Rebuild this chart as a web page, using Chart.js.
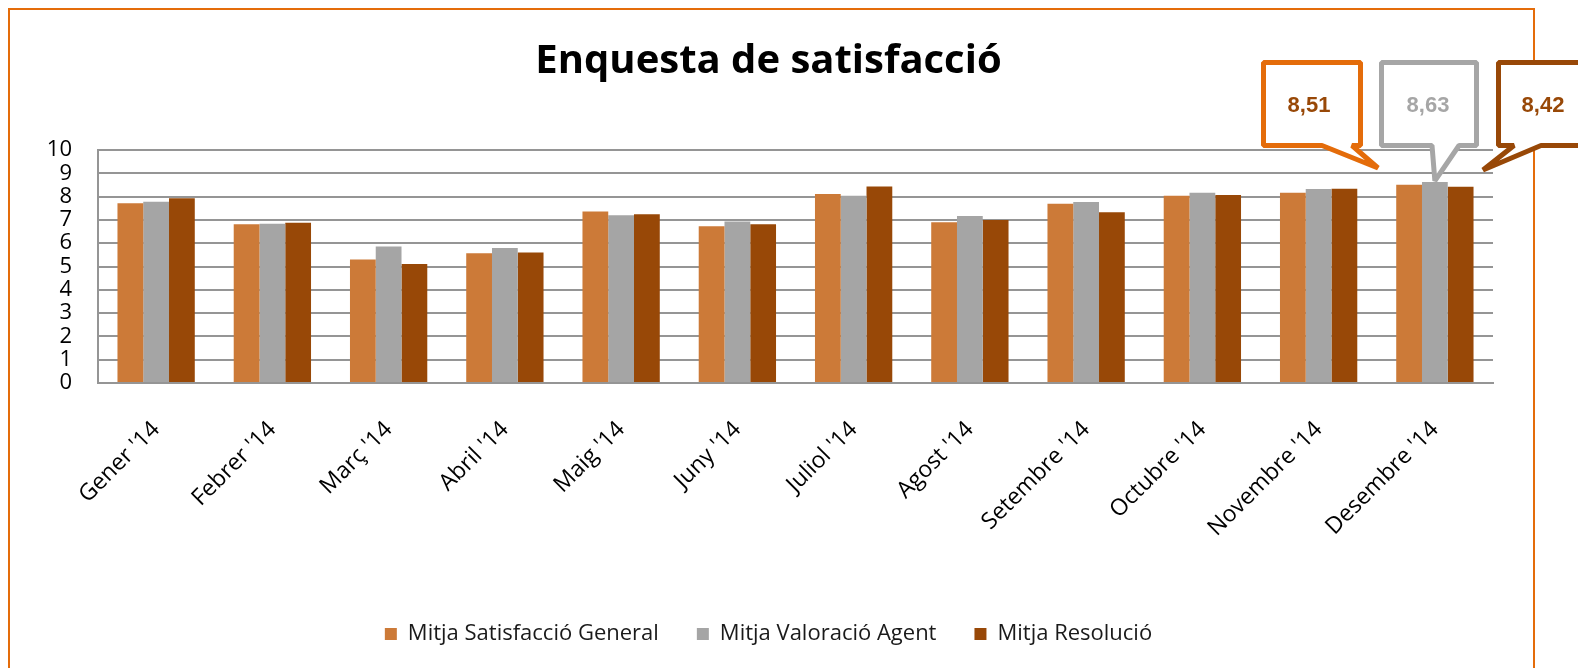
<!DOCTYPE html>
<html>
<head>
<meta charset="utf-8">
<script src="https://cdn.jsdelivr.net/npm/chart.js@4/dist/chart.umd.min.js"></script>
<style>
  html, body { margin: 0; padding: 0; background: #ffffff; }
  #wrap { width: 1578px; height: 668px; position: relative; }
</style>
</head>
<body>
<div id="wrap"><canvas id="c" width="1578" height="668"></canvas></div>
<script>
const chartTitle = "Enquesta de satisfacció";
const categories = ["Gener '14", "Febrer '14", "Març '14", "Abril '14", "Maig '14", "Juny '14",
  "Juliol '14", "Agost '14", "Setembre '14", "Octubre '14", "Novembre '14", "Desembre '14"];
const seriesNames = ["Mitja Satisfacció General", "Mitja Valoració Agent", "Mitja Resolució"];
const satisfaccioGeneral = [7.71, 6.81, 5.30, 5.57, 7.36, 6.73, 8.11, 6.90, 7.69, 8.04, 8.16, 8.51];
const valoracioAgent     = [7.78, 6.84, 5.86, 5.79, 7.20, 6.93, 8.04, 7.17, 7.77, 8.16, 8.33, 8.63];
const resolucio          = [7.93, 6.88, 5.11, 5.60, 7.24, 6.81, 8.43, 7.00, 7.33, 8.07, 8.34, 8.42];
const yMin = 0, yMax = 10, yStep = 1;

const barColors = ['#CC7A38', '#A5A5A5', '#984807'];
const FONT = "'Open Sans', 'DejaVu Sans', sans-serif";
const PLOT_BOTTOM = 383;
const LEGEND_TEXT_Y = 634;

const framePlugin = {
  id: 'frame',
  beforeDraw(chart) {
    const ctx = chart.ctx;
    ctx.save();
    ctx.fillStyle = '#ffffff';
    ctx.fillRect(0, 0, chart.width, chart.height);
    ctx.strokeStyle = '#E46C0A';
    ctx.lineWidth = 2;
    ctx.strokeRect(9, 9, 1525, 720);
    ctx.restore();
  }
};

const legendPlace = {
  id: 'legendPlace',
  afterLayout(chart) {
    const lg = chart.legend;
    if (!lg) return;
    const pad = lg.options.labels.padding;
    const fs = lg.options.labels.font.size;
    const h = lg.height;
    lg.top = LEGEND_TEXT_Y - pad - fs / 2;
    lg.bottom = lg.top + h;
  }
};

const fmt = v => v.toFixed(2).replace('.', ',');

const calloutPlugin = {
  id: 'callouts',
  afterDraw(chart) {
    const ctx = chart.ctx;
    const last = categories.length - 1;
    const gbar = chart.getDatasetMeta(1).data[last];
    const all = [satisfaccioGeneral, valoracioAgent, resolucio];
    const specs = [
      { box: [1263.5, 62.5, 1360.5, 145.5], base: [1322, 1352], tip: [1378, 168], stroke: '#E46C0A', text: '#984807', tx: 1309 },
      { box: [1381.5, 62.5, 1476.5, 145.5], base: [1432, 1459], tip: [gbar.x, gbar.y - 1], stroke: '#A6A6A6', text: '#A6A6A6', tx: 1428 },
      { box: [1498.5, 62.5, 1640, 145.5], base: [1514, 1541], tip: [1483, 170], stroke: '#984807', text: '#984807', tx: 1543 }
    ];
    ctx.save();
    specs.forEach((s, i) => {
      const [x1, y1, x2, y2] = s.box;
      ctx.beginPath();
      ctx.moveTo(x1, y1);
      ctx.lineTo(x2, y1);
      ctx.lineTo(x2, y2);
      ctx.lineTo(s.base[1], y2);
      ctx.lineTo(s.tip[0], s.tip[1]);
      ctx.lineTo(s.base[0], y2);
      ctx.lineTo(x1, y2);
      ctx.closePath();
      ctx.fillStyle = '#ffffff';
      ctx.fill();
      ctx.lineWidth = 5;
      ctx.lineJoin = 'bevel';
      ctx.strokeStyle = s.stroke;
      ctx.stroke();
      ctx.fillStyle = s.text;
      ctx.font = "bold 22px 'Liberation Sans', Arial, sans-serif";
      ctx.textAlign = 'center';
      ctx.textBaseline = 'middle';
      ctx.fillText(fmt(all[i][last]), s.tx, 106);
    });
    ctx.restore();
  }
};

const gridColor = '#959595';

new Chart(document.getElementById('c'), {
  type: 'bar',
  data: {
    labels: categories,
    datasets: [
      { label: seriesNames[0], data: satisfaccioGeneral, backgroundColor: barColors[0] },
      { label: seriesNames[1], data: valoracioAgent, backgroundColor: barColors[1] },
      { label: seriesNames[2], data: resolucio, backgroundColor: barColors[2] }
    ]
  },
  options: {
    responsive: false,
    animation: false,
    devicePixelRatio: 1,
    layout: { padding: { left: 44, right: 85, top: 0, bottom: 0 } },
    datasets: { bar: { categoryPercentage: 0.665, barPercentage: 1.0 } },
    scales: {
      x: {
        grid: { display: false, drawTicks: false },
        border: { display: true, color: gridColor, width: 2 },
        ticks: {
          color: '#000000',
          font: { family: FONT, size: 23 },
          minRotation: 45, maxRotation: 45,
          autoSkip: false,
          padding: 33
        },
        afterFit(scale) {
          const lg = scale.chart.legend;
          const lh = lg && lg.height ? lg.height : 0;
          scale.height = scale.chart.height - PLOT_BOTTOM - lh;
        }
      },
      y: {
        min: yMin, max: yMax,
        grid: { color: gridColor, lineWidth: 2, drawTicks: false },
        border: { display: true, color: gridColor, width: 2 },
        ticks: {
          stepSize: yStep,
          autoSkip: false,
          color: '#000000',
          font: { family: FONT, size: 22, lineHeight: 1 },
          padding: 26
        },
        afterFit(scale) { scale.width = 54; }
      }
    },
    plugins: {
      title: {
        display: true,
        text: chartTitle,
        color: '#000000',
        font: { family: FONT, size: 40, weight: 'bold', lineHeight: 1.2 },
        padding: { top: 38, bottom: 64 }
      },
      legend: {
        display: true,
        position: 'bottom',
        labels: {
          color: '#1a1a1a',
          font: { family: FONT, size: 22 },
          boxWidth: 12,
          boxHeight: 12,
          padding: 38
        }
      },
      tooltip: { enabled: false }
    }
  },
  plugins: [framePlugin, legendPlace, calloutPlugin]
});
</script>
</body>
</html>
